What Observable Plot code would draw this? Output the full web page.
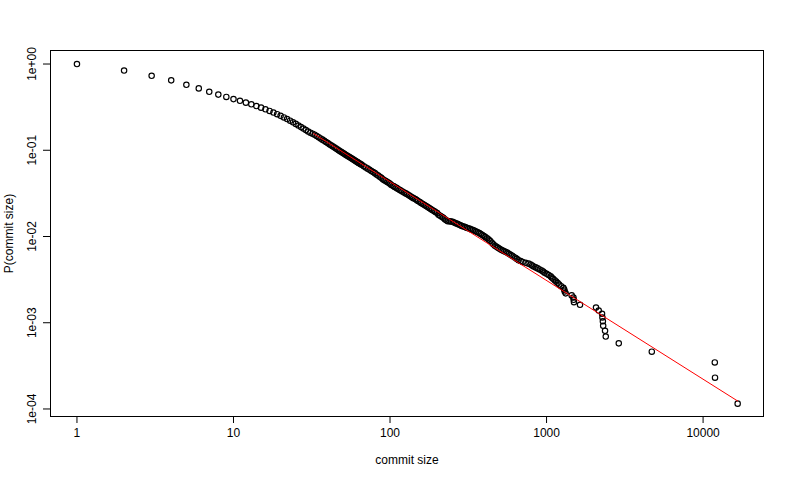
<!DOCTYPE html>
<html>
<head>
<meta charset="utf-8">
<script src="https://cdn.jsdelivr.net/npm/d3@7"></script>
<script src="https://cdn.jsdelivr.net/npm/@observablehq/plot@0.6"></script>
<style>
  html, body { margin: 0; padding: 0; background: #ffffff; }
  #chart { width: 789px; height: 479px; }
</style>
</head>
<body>
<div id="chart"></div>
<script>
// ---- Data (complementary CDF of commit sizes) ----
const headSizes = [1,2,3,4,5,6,7,8,9,10,11,12,13,14,15,16,17,18,19,20,21,22,23,24,25,26,27,28,29,30,31,32];
const headProbs = [1,0.8402,0.7311,0.6465,0.5745,0.5217,0.4763,0.4418,0.4155,0.3918,0.3744,0.3567,0.3409,0.3257,0.3120,0.2989,0.2856,0.2737,0.2622,0.2505,0.2400,0.2299,0.2203,0.2110,0.2022,0.1937,0.1856,0.1783,0.1713,0.1650,0.1598,0.1556];

const bandSizes = [33,34,35,36,37,38,39,40,41,42,43,44,45,46,47,48,49,50,51,52,53,54,55,56,57,58,59,60,61,62,63,64,65,66,68,70,72,74,76,78,80,82,84,86,88,90,92,94,96,98,100,
  102,105,107,110,112,115,117,120,123,126,129,132,135,138,141,145,148,151,155,158,162,166,170,174,178,182,186,191,195,200,
  204,209,214,219,224,229,234,240,245,251,257,263,269,275,282,288,295,302,309,316,324,331,339,347,355,363,372,380,389,398,
  407,417,427,437,447,457,468,479,490,501,513,525,537,550,562,575,589,603,617,631,646];
const bandProbs = [0.1516,0.1465,0.1417,0.1370,0.1328,0.1288,0.1249,0.1213,0.1176,0.1144,0.1114,0.1082,0.1054,0.1028,0.1000,0.09766,0.09537,0.09318,0.09087,0.08889,0.08694,0.08511,0.08333,0.08164,0.08000,0.07843,0.07690,0.07563,0.07402,0.07284,0.07135,0.07024,0.06883,0.06782,0.06537,0.06324,0.06123,0.05935,0.05756,0.05586,0.05428,0.05234,0.05091,0.04916,0.04787,0.04616,0.04501,0.04393,0.04287,0.04188,0.04092,
  0.03964,0.03861,0.03760,0.03663,0.03567,0.03475,0.03421,0.03332,0.03245,0.03161,0.03094,0.03014,0.02936,0.02859,0.02785,0.02713,0.02642,0.02574,0.02506,0.02441,0.02378,0.02316,0.02255,0.02197,0.02140,0.02084,0.02030,0.01977,0.01925,0.01875,
  0.01783,0.01737,0.01691,0.01647,0.01583,0.01542,0.01502,0.01500,0.01495,0.01480,0.01457,0.01427,0.01401,0.01375,0.01346,0.01326,0.01305,0.01285,0.01265,0.01245,0.01226,0.01207,0.01188,0.01167,0.01142,0.01119,0.01095,0.01070,0.01041,0.01015,
  0.009829,0.009524,0.009201,0.008844,0.008475,0.008124,0.007828,0.007585,0.007387,0.007194,0.007006,0.006861,0.006736,0.006614,0.006475,0.006307,0.006142,0.005984,0.005827,0.005677,0.005500];

const tailSizes = [663,683,703,735,768,791,809,827,852,877,903,930,951,972,1001,1031,1062,1078,1102,1127,1152,1178,1204,1240,1281,1297,1306,1325,1447,1485,1490,1497,1636,2070,2154,2262,2275,2290,2300,2364,2389,2893,4703,11880,11920,16630];
const tailProbs = [0.005306,0.005190,0.005075,0.004960,0.004844,0.004729,0.004614,0.004498,0.004383,0.004268,0.004152,0.004037,0.003922,0.003806,0.003691,0.003576,0.003460,0.003345,0.003230,0.003114,0.002999,0.002884,0.002768,0.002653,0.002537,0.002422,0.002307,0.002191,0.002076,0.001961,0.001845,0.001730,0.001615,0.001499,0.001384,0.001269,0.001153,0.001038,0.0009227,0.0008074,0.0006920,0.0005767,0.0004614,0.0003460,0.0002307,0.0001153];

// fitted power law (red line), endpoints
const fitSizes = [32.5, 16630];
const fitProbs = [0.156, 0.0001237];

const xTicks = [1, 10, 100, 1000, 10000];
const xTickLabels = ["1", "10", "100", "1000", "10000"];
const yTicks = [1, 0.1, 0.01, 0.001, 0.0001];
const yTickLabels = ["1e+00", "1e-01", "1e-02", "1e-03", "1e-04"];
const xTitle = "commit size";
const yTitle = "P(commit size)";

// ---- Build tables ----
const sizes = [...headSizes, ...bandSizes, ...tailSizes];
const probs = [...headProbs, ...bandProbs, ...tailProbs];
const points = sizes.map((s, i) => ({size: s, p: probs[i]}));
const fit = fitSizes.map((s, i) => ({size: s, p: fitProbs[i]}));

const font = "'Liberation Sans', Arial, Helvetica, sans-serif";

const chart = Plot.plot({
  width: 789,
  height: 479,
  marginLeft: 50,
  marginRight: 26,
  marginTop: 50,
  marginBottom: 63,
  style: {fontFamily: font, fontSize: "12px", background: "#ffffff", color: "#000000", overflow: "visible"},
  x: {type: "log", domain: [0.6776, 24322], label: null},
  y: {type: "log", domain: [8.18e-5, 1.435], label: null},
  marks: [
    Plot.frame({stroke: "#000000", strokeWidth: 1}),
    Plot.axisX(xTicks, {anchor: "bottom", tickSize: 7, tickPadding: 5, stroke: "#000000",
      tickFormat: (d) => xTickLabels[xTicks.indexOf(d)], fontSize: 12, label: null}),
    Plot.axisY(yTicks, {anchor: "left", tickSize: 7, stroke: "#000000",
      tickFormat: () => "", label: null}),
    Plot.text(yTicks, {y: d => d, text: (d, i) => yTickLabels[i], frameAnchor: "left", dx: -18,
      rotate: -90, textAnchor: "middle", lineAnchor: "middle", fontSize: 12, fill: "#000000"}),
    Plot.text([xTitle], {text: d => d, frameAnchor: "bottom", dy: 44, textAnchor: "middle",
      lineAnchor: "middle", fontSize: 12, fill: "#000000"}),
    Plot.text([yTitle], {text: d => d, frameAnchor: "left", dx: -41, rotate: -90,
      textAnchor: "middle", lineAnchor: "middle", fontSize: 12, fill: "#000000"}),
    Plot.dot(points, {x: "size", y: "p", r: 2.7, stroke: "#000000", strokeWidth: 1.15, fill: "none"}),
    Plot.line(fit, {x: "size", y: "p", stroke: "#ff0000", strokeWidth: 1})
  ]
});

document.getElementById("chart").appendChild(chart);
</script>
</body>
</html>
